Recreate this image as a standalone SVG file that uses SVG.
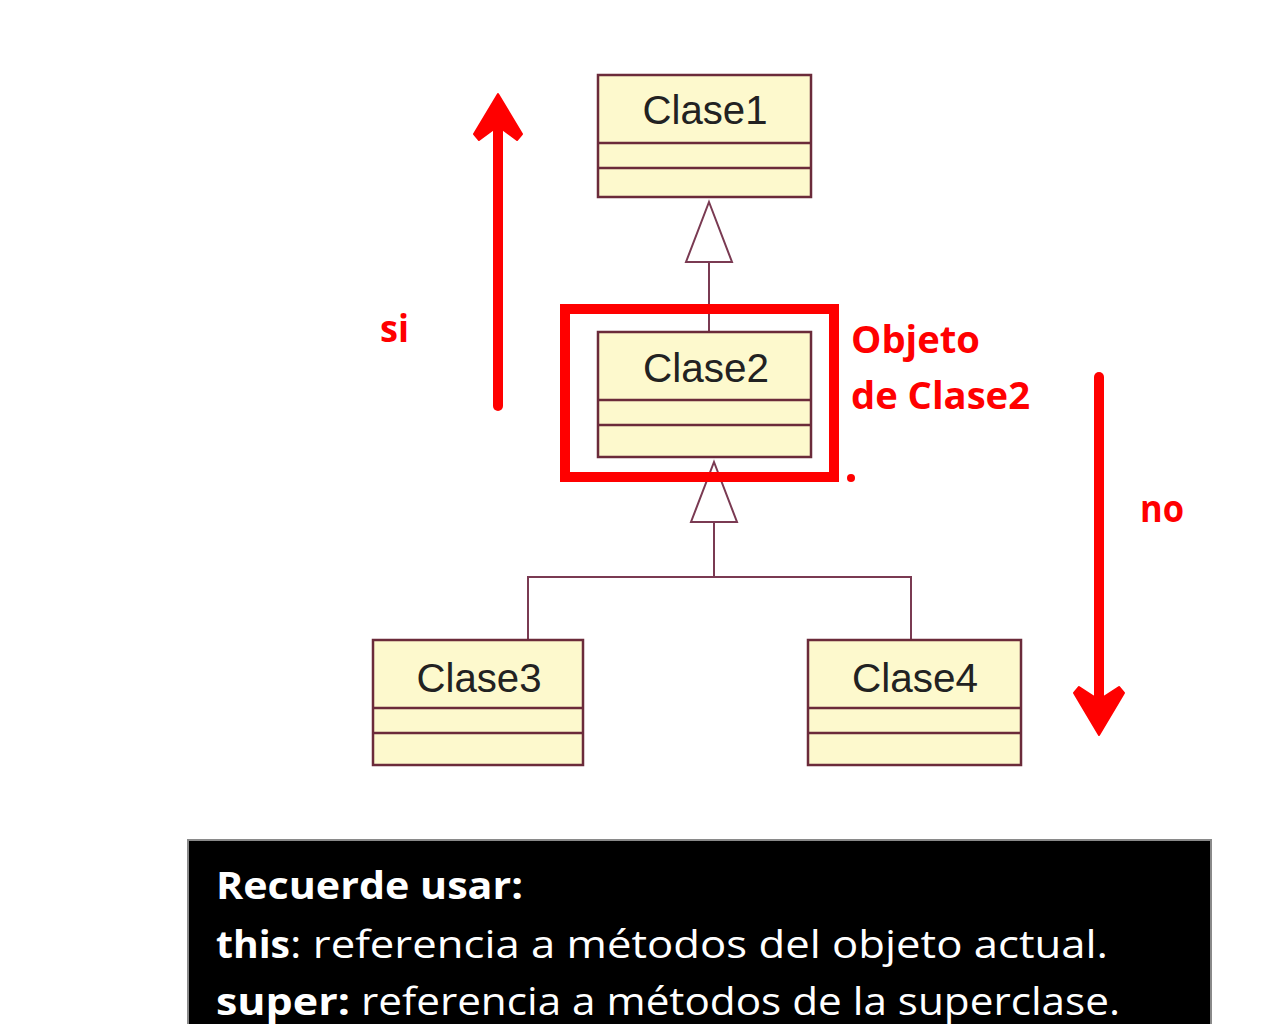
<svg xmlns="http://www.w3.org/2000/svg" width="1280" height="1024" viewBox="0 0 1280 1024">
  <style>
    .box { fill: #fdf9cd; stroke: #6b2b3a; stroke-width: 2.5; }
    .div { stroke: #6b2b3a; stroke-width: 2.5; }
    .cname { font-family: "Liberation Sans", Arial, sans-serif; font-size: 41px; fill: #222; text-anchor: middle; }
    .conn { fill: none; stroke: #7a3a52; stroke-width: 2; }
    .tri { fill: #ffffff; stroke: #7a3a52; stroke-width: 2; }
    .red { font-family: "Open Sans", "Noto Sans", sans-serif; font-weight: bold; font-size: 38px; fill: #ff0000; }
    .note { font-family: "Open Sans", "Noto Sans", sans-serif; font-size: 38px; fill: #ffffff; }
    .b { font-weight: bold; }
  </style>

  <rect width="1280" height="1024" fill="#ffffff"/>

  <g id="connectors">
    <line class="conn" x1="709" y1="262" x2="709" y2="332"/>
    <polygon class="tri" points="709,202 732,262 686,262"/>
    <polyline class="conn" points="528,640 528,577 911,577 911,640"/>
    <line class="conn" x1="714" y1="522" x2="714" y2="577"/>
    <polygon class="tri" points="714,462 737,522 691,522"/>
  </g>

  <g id="Clase1">
    <rect class="box" x="598" y="75" width="213" height="122"/>
    <line class="div" x1="598" y1="143" x2="811" y2="143"/>
    <line class="div" x1="598" y1="168" x2="811" y2="168"/>
    <text class="cname" x="705" y="124" textLength="125" lengthAdjust="spacingAndGlyphs">Clase1</text>
  </g>

  <g id="Clase2">
    <rect class="box" x="598" y="332" width="213" height="125"/>
    <line class="div" x1="598" y1="400" x2="811" y2="400"/>
    <line class="div" x1="598" y1="425" x2="811" y2="425"/>
    <text class="cname" x="706" y="382" textLength="126" lengthAdjust="spacingAndGlyphs">Clase2</text>
  </g>

  <g id="Clase3">
    <rect class="box" x="373" y="640" width="210" height="125"/>
    <line class="div" x1="373" y1="708" x2="583" y2="708"/>
    <line class="div" x1="373" y1="733" x2="583" y2="733"/>
    <text class="cname" x="479" y="692" textLength="125" lengthAdjust="spacingAndGlyphs">Clase3</text>
  </g>

  <g id="Clase4">
    <rect class="box" x="808" y="640" width="213" height="125"/>
    <line class="div" x1="808" y1="708" x2="1021" y2="708"/>
    <line class="div" x1="808" y1="733" x2="1021" y2="733"/>
    <text class="cname" x="915" y="692" textLength="126" lengthAdjust="spacingAndGlyphs">Clase4</text>
  </g>

  <g id="highlight">
    <rect x="565" y="309" width="269" height="168" fill="none" stroke="#ff0000" stroke-width="10"/>
    <circle cx="851" cy="478" r="4" fill="#ff0000"/>
    <text class="red" x="851" y="353" textLength="129" lengthAdjust="spacingAndGlyphs">Objeto</text>
    <text class="red" x="851" y="409" textLength="179" lengthAdjust="spacingAndGlyphs">de Clase2</text>
  </g>

  <g id="arrow-si">
    <line x1="498" y1="406" x2="498" y2="120" stroke="#ff0000" stroke-width="10" stroke-linecap="round"/>
    <polygon points="498,94 522,134 517,140 498,126 479,140 474,134" fill="#ff0000" stroke="#ff0000" stroke-width="2" stroke-linejoin="round"/>
    <text class="red" x="380" y="342" textLength="29" lengthAdjust="spacingAndGlyphs">si</text>
  </g>

  <g id="arrow-no">
    <line x1="1099" y1="377" x2="1099" y2="710" stroke="#ff0000" stroke-width="10" stroke-linecap="round"/>
    <polygon points="1099,735 1124,693 1119,687 1099,700 1079,687 1074,693" fill="#ff0000" stroke="#ff0000" stroke-width="2" stroke-linejoin="round"/>
    <text class="red" x="1140" y="522" textLength="44" lengthAdjust="spacingAndGlyphs">no</text>
  </g>

  <g id="note">
    <rect x="188" y="840" width="1023" height="200" fill="#000000" stroke="#8a8a8a" stroke-width="2"/>
    <text class="note b" x="216" y="899" textLength="307" lengthAdjust="spacingAndGlyphs">Recuerde usar:</text>
    <text class="note" x="216" y="958"><tspan class="b" textLength="74" lengthAdjust="spacingAndGlyphs">this</tspan><tspan textLength="818" lengthAdjust="spacingAndGlyphs">: referencia a métodos del objeto actual.</tspan></text>
    <text class="note" x="216" y="1015"><tspan class="b" textLength="134" lengthAdjust="spacingAndGlyphs">super:</tspan><tspan textLength="770" lengthAdjust="spacingAndGlyphs"> referencia a métodos de la superclase.</tspan></text>
  </g>
</svg>
